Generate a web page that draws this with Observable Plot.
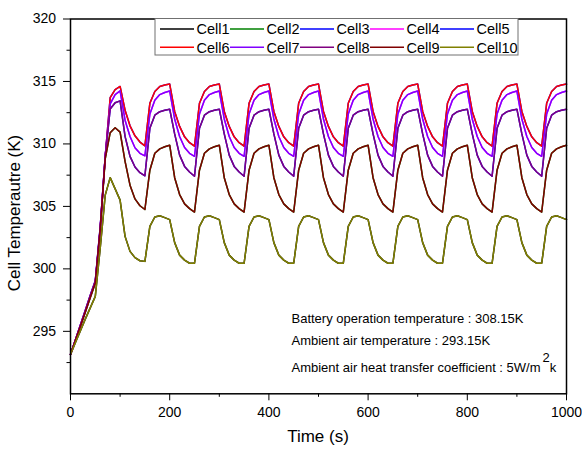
<!DOCTYPE html>
<html><head><meta charset="utf-8">
<script src="https://cdn.jsdelivr.net/npm/d3@7"></script>
<script src="https://cdn.jsdelivr.net/npm/@observablehq/plot@0.6"></script>
<style>
body{margin:0;background:#fff;}
svg{font-family:"Liberation Sans",Arial,sans-serif;}
</style>
</head><body><div id="chart"></div>
<script>
// Time samples (s)
const time = d3.range(0, 1001, 10);

// Legend / series names and colours
const cellNames = ["Cell1","Cell2","Cell3","Cell4","Cell5","Cell6","Cell7","Cell8","Cell9","Cell10"];
const cellColors = ["#000000","#008000","#0000ff","#ff00ff","#0000ff","#ff0000","#8000ff","#800080","#800000","#808000"];

// Axis ticks
const xMajor = [0, 200, 400, 600, 800, 1000];
const xMinor = [100, 300, 500, 700, 900];
const yMajor = [295, 300, 305, 310, 315, 320];
const yMinor = [292.5, 297.5, 302.5, 307.5, 312.5, 317.5];

// Cell temperatures (K) at 10 s steps
const cell6 = [
293.15, 294.3, 295.45, 296.6, 297.8, 298.95,
303.2, 309.0, 313.7, 314.35, 314.6,
312.7, 311.45, 310.65, 310.15, 309.85,
313.25, 314.2, 314.6, 314.72, 314.79, 312.6, 311.4, 310.57, 310.1, 309.82,
313.25, 314.2, 314.6, 314.72, 314.79, 312.6, 311.4, 310.57, 310.1, 309.82,
313.25, 314.2, 314.6, 314.72, 314.79, 312.6, 311.4, 310.57, 310.1, 309.82,
313.25, 314.2, 314.6, 314.72, 314.79, 312.6, 311.4, 310.57, 310.1, 309.82,
313.25, 314.2, 314.6, 314.72, 314.79, 312.6, 311.4, 310.57, 310.1, 309.82,
313.25, 314.2, 314.6, 314.72, 314.79, 312.6, 311.4, 310.57, 310.1, 309.82,
313.25, 314.2, 314.6, 314.72, 314.79, 312.6, 311.4, 310.57, 310.1, 309.82,
313.25, 314.2, 314.6, 314.72, 314.79, 312.6, 311.4, 310.57, 310.1, 309.82,
313.25, 314.2, 314.6, 314.72, 314.79];

const cell7 = [
293.15, 294.3, 295.5, 296.65, 297.85, 299.0,
303.3, 309.0, 313.2, 313.95, 314.25,
311.9, 310.6, 309.7, 309.25, 309.05,
312.4, 313.5, 313.95, 314.12, 314.23, 312.0, 310.6, 309.71, 309.25, 309.01,
312.4, 313.5, 313.95, 314.12, 314.23, 312.0, 310.6, 309.71, 309.25, 309.01,
312.4, 313.5, 313.95, 314.12, 314.23, 312.0, 310.6, 309.71, 309.25, 309.01,
312.4, 313.5, 313.95, 314.12, 314.23, 312.0, 310.6, 309.71, 309.25, 309.01,
312.4, 313.5, 313.95, 314.12, 314.23, 312.0, 310.6, 309.71, 309.25, 309.01,
312.4, 313.5, 313.95, 314.12, 314.23, 312.0, 310.6, 309.71, 309.25, 309.01,
312.4, 313.5, 313.95, 314.12, 314.23, 312.0, 310.6, 309.71, 309.25, 309.01,
312.4, 313.5, 313.95, 314.12, 314.23, 312.0, 310.6, 309.71, 309.25, 309.01,
312.4, 313.5, 313.95, 314.12, 314.23];

const cell8 = [
293.15, 294.32, 295.5, 296.7, 297.9, 299.05,
303.4, 309.0, 312.8, 313.3, 313.45,
310.6, 309.0, 308.15, 307.7, 307.45,
311.25, 312.3, 312.58, 312.7, 312.78, 310.8, 309.1, 308.2, 307.75, 307.41,
311.25, 312.3, 312.58, 312.7, 312.78, 310.8, 309.1, 308.2, 307.75, 307.41,
311.25, 312.3, 312.58, 312.7, 312.78, 310.8, 309.1, 308.2, 307.75, 307.41,
311.25, 312.3, 312.58, 312.7, 312.78, 310.8, 309.1, 308.2, 307.75, 307.41,
311.25, 312.3, 312.58, 312.7, 312.78, 310.8, 309.1, 308.2, 307.75, 307.41,
311.25, 312.3, 312.58, 312.7, 312.78, 310.8, 309.1, 308.2, 307.75, 307.41,
311.25, 312.3, 312.58, 312.7, 312.78, 310.8, 309.1, 308.2, 307.75, 307.41,
311.25, 312.3, 312.58, 312.7, 312.78, 310.8, 309.1, 308.2, 307.75, 307.41,
311.25, 312.3, 312.58, 312.7, 312.78];

const cell9 = [
293.15, 294.28, 295.4, 296.55, 297.7, 298.85,
303.2, 308.8, 310.9, 311.3, 310.95,
308.6, 306.7, 305.6, 305.05, 304.75,
307.9, 309.25, 309.6, 309.77, 309.9, 307.3, 305.95, 305.2, 304.82, 304.55,
307.9, 309.25, 309.6, 309.77, 309.9, 307.3, 305.95, 305.2, 304.82, 304.55,
307.9, 309.25, 309.6, 309.77, 309.9, 307.3, 305.95, 305.2, 304.82, 304.55,
307.9, 309.25, 309.6, 309.77, 309.9, 307.3, 305.95, 305.2, 304.82, 304.55,
307.9, 309.25, 309.6, 309.77, 309.9, 307.3, 305.95, 305.2, 304.82, 304.55,
307.9, 309.25, 309.6, 309.77, 309.9, 307.3, 305.95, 305.2, 304.82, 304.55,
307.9, 309.25, 309.6, 309.77, 309.9, 307.3, 305.95, 305.2, 304.82, 304.55,
307.9, 309.25, 309.6, 309.77, 309.9, 307.3, 305.95, 305.2, 304.82, 304.55,
307.9, 309.25, 309.6, 309.77, 309.9];

const cell10 = [
293.15, 294.1, 295.05, 296.0, 296.9, 297.8,
301.7, 305.9, 307.3, 306.4, 305.5,
302.6, 301.4, 300.9, 300.65, 300.6,
303.4, 304.15, 304.25, 304.1, 303.94, 302.1, 301.1, 300.7, 300.45, 300.45,
303.4, 304.15, 304.25, 304.1, 303.94, 302.1, 301.1, 300.7, 300.45, 300.45,
303.4, 304.15, 304.25, 304.1, 303.94, 302.1, 301.1, 300.7, 300.45, 300.45,
303.4, 304.15, 304.25, 304.1, 303.94, 302.1, 301.1, 300.7, 300.45, 300.45,
303.4, 304.15, 304.25, 304.1, 303.94, 302.1, 301.1, 300.7, 300.45, 300.45,
303.4, 304.15, 304.25, 304.1, 303.94, 302.1, 301.1, 300.7, 300.45, 300.45,
303.4, 304.15, 304.25, 304.1, 303.94, 302.1, 301.1, 300.7, 300.45, 300.45,
303.4, 304.15, 304.25, 304.1, 303.94, 302.1, 301.1, 300.7, 300.45, 300.45,
303.4, 304.15, 304.25, 304.1, 303.94];

// Symmetric pack: cells 1-5 mirror cells 10-6 (hidden beneath them in the chart)
const cell1 = cell10.slice();
const cell2 = cell9.slice();
const cell3 = cell8.slice();
const cell4 = cell7.slice();
const cell5 = cell6.slice();
const cellValues = [cell1, cell2, cell3, cell4, cell5, cell6, cell7, cell8, cell9, cell10];

const notes = ["Battery operation temperature : 308.15K", "Ambient air temperature : 293.15K"];

const W = 582, H = 453;
const mL = 70, mR = 16, mT = 18.5, mB = 59.7;

const lineMarks = cellNames.map((name, i) =>
  Plot.line(time.map((t, j) => ({t, v: cellValues[i][j]})),
    {x: "t", y: "v", stroke: cellColors[i], strokeWidth: 1.5}));

const chart = Plot.plot({
  width: W, height: H,
  marginLeft: mL, marginRight: mR, marginTop: mT, marginBottom: mB,
  style: {fontSize: "14px", fontFamily: "'Liberation Sans', Arial, sans-serif", background: "white", color: "black"},
  x: {domain: [0, 1000]},
  y: {domain: [290, 320]},
  marks: [
    ...lineMarks,
    Plot.axisX(xMajor, {tickSize: 7, tickPadding: 6, label: null, fontSize: 14, tickFormat: d => String(d)}),
    Plot.axisX(xMinor, {tickSize: 3.5, tickFormat: () => "", label: null}),
    Plot.axisY(yMajor, {tickSize: 7, tickPadding: 7.5, label: null, fontSize: 14, tickFormat: d => String(d)}),
    Plot.axisY(yMinor, {tickSize: 3.5, tickFormat: () => "", label: null}),
    Plot.frame({stroke: "black", strokeWidth: 1.5})
  ]
});

const svg = d3.select(chart);
const ff = "'Liberation Sans', Arial, sans-serif";

// Axis titles
svg.append("text").attr("transform", "translate(20,213) rotate(-90)")
  .attr("text-anchor", "middle").attr("font-size", 17).attr("font-family", ff)
  .attr("fill", "black").text("Cell Temperautre (K)");
svg.append("text").attr("x", 318).attr("y", 442)
  .attr("text-anchor", "middle").attr("font-size", 17).attr("font-family", ff)
  .attr("fill", "black").text("Time (s)");

// Legend
const lg = svg.append("g");
lg.append("rect").attr("x", 155).attr("y", mT).attr("width", 363).attr("height", 36.5)
  .attr("fill", "white").attr("stroke", "#707070").attr("stroke-width", 1);
cellNames.forEach((name, i) => {
  const col = i % 5, row = Math.floor(i / 5);
  const x0 = 160 + col * 70, yc = 29 + row * 18.3;
  lg.append("line").attr("x1", x0).attr("x2", x0 + 34).attr("y1", yc).attr("y2", yc)
    .attr("stroke", cellColors[i]).attr("stroke-width", 1.5);
  lg.append("text").attr("x", x0 + 36.5).attr("y", yc).attr("dy", "0.36em")
    .attr("text-anchor", "start")
    .attr("font-size", 14.5).attr("font-family", ff).attr("fill", "black").text(name);
});

// Annotations
const ag = svg.append("g").attr("font-size", 13).attr("font-family", ff).attr("fill", "black")
  .attr("text-anchor", "start");
ag.append("text").attr("x", 291.5).attr("y", 323).attr("text-anchor", "start").text(notes[0]);
ag.append("text").attr("x", 291.5).attr("y", 345).attr("text-anchor", "start").text(notes[1]);
const t3 = ag.append("text").attr("x", 291.5).attr("y", 371.5).attr("text-anchor", "start");
t3.append("tspan").text("Ambient air heat transfer coefficient : 5W/m");
t3.append("tspan").attr("dx", 2).attr("dy", -10).text("2");
t3.append("tspan").attr("dx", 0).attr("dy", 10).text("k");

document.getElementById("chart").appendChild(chart);
</script>
</body></html>
